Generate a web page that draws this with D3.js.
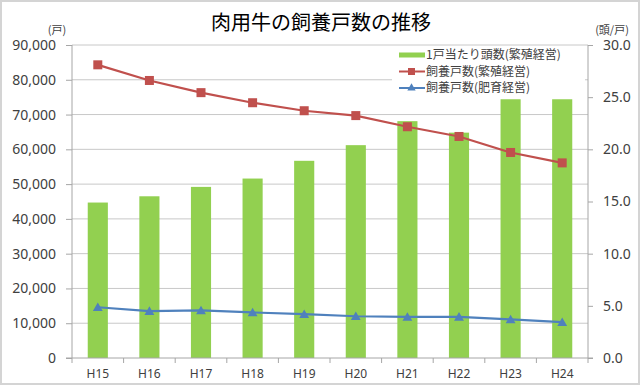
<!DOCTYPE html>
<html>
  <head>
    <meta charset="utf-8">
    <title>肉用牛の飼養戸数の推移</title>
    <script src="https://d3js.org/d3.v7.min.js"></script>
    <style>
      body { margin: 0; background: #fff; }
      text { font-family: "Noto Sans", "Noto Sans CJK JP", sans-serif; fill: #404040; }
      .jp { font-family: "Noto Sans CJK JP", sans-serif; }
    </style>
  </head>
  <body>
    <div id="chart"></div>
    <script>
      // data
      const years = ["H15", "H16", "H17", "H18", "H19", "H20", "H21", "H22", "H23", "H24"];
      const headsPerFarm = [14.9, 15.5, 16.4, 17.2, 18.9, 20.4, 22.7, 21.6, 24.8, 24.8];        // 頭/戸, right axis
      const breedingFarms = [84300, 79800, 76300, 73400, 71100, 69700, 66500, 63700, 59100, 56100];  // 戸, left axis
      const fatteningFarms = [14600, 13500, 13700, 13100, 12600, 12000, 11800, 11850, 11100, 10300];
      const leftTicks = [0, 10000, 20000, 30000, 40000, 50000, 60000, 70000, 80000, 90000];
      const rightTicks = [0, 5, 10, 15, 20, 25, 30];

      const W = 640, H = 387;
      const plot = {left: 72, right: 588, top: 45, bottom: 358};

      const svg = d3.select("#chart")
        .append("svg")
        .attr("width", W)
        .attr("height", H);

      // outer frame
      svg.append("rect")
        .attr("x", 1).attr("y", 1)
        .attr("width", W - 2).attr("height", H - 4)
        .attr("fill", "#fff")
        .attr("stroke", "#d4d4d4")
        .attr("stroke-width", 2);

      const x = d3.scaleBand()
        .domain(years)
        .range([plot.left, plot.right]);
      const yL = d3.scaleLinear()
        .domain([0, 90000])
        .range([plot.bottom, plot.top]);
      const yR = d3.scaleLinear()
        .domain([0, 30])
        .range([plot.bottom, plot.top]);

      // gridlines
      svg.append("g")
        .selectAll("line")
        .data(leftTicks.slice(1))
        .join("line")
        .attr("x1", plot.left).attr("x2", plot.right)
        .attr("y1", d => yL(d)).attr("y2", d => yL(d))
        .attr("stroke", "#c8c8c8");

      // left axis
      const leftAxis = svg.append("g")
        .attr("transform", `translate(${plot.left},0)`)
        .call(d3.axisLeft(yL).tickValues(leftTicks).tickSize(6).tickPadding(10)
          .tickFormat(d3.format(",")));
      leftAxis.select(".domain").attr("stroke", "#a6a6a6").attr("d", `M0,${plot.top}V${plot.bottom}`);
      leftAxis.selectAll(".tick line").attr("stroke", "#a6a6a6");
      leftAxis.selectAll("text").style("font-size", "14px").attr("fill", "#404040");

      // right axis
      const rightAxis = svg.append("g")
        .attr("transform", `translate(${plot.right},0)`)
        .call(d3.axisRight(yR).tickValues(rightTicks).tickSize(5).tickPadding(10)
          .tickFormat(d3.format(".1f")));
      rightAxis.select(".domain").attr("stroke", "#a6a6a6").attr("d", `M0,${plot.top}V${plot.bottom}`);
      rightAxis.selectAll(".tick line").attr("stroke", "#a6a6a6");
      rightAxis.selectAll("text").style("font-size", "14px").attr("fill", "#404040");

      // bars (right axis)
      const barW = x.bandwidth() * 0.39;
      svg.append("g")
        .selectAll("rect")
        .data(headsPerFarm)
        .join("rect")
        .attr("x", (d, i) => x(years[i]) + (x.bandwidth() - barW) / 2)
        .attr("width", barW)
        .attr("y", d => yR(d))
        .attr("height", d => plot.bottom - yR(d))
        .attr("fill", "#92d050");

      // x axis
      const xAxis = svg.append("g")
        .attr("transform", `translate(0,${plot.bottom})`)
        .call(d3.axisBottom(x).tickSize(0).tickPadding(11));
      xAxis.select(".domain").attr("stroke", "#a6a6a6").attr("d", `M${plot.left - 6},0H${plot.right + 5}`);
      xAxis.selectAll("text").style("font-size", "12px").attr("fill", "#404040");
      // tick marks between categories
      xAxis.append("g")
        .selectAll("line")
        .data(d3.range(years.length + 1))
        .join("line")
        .attr("x1", i => plot.left + i * x.step())
        .attr("x2", i => plot.left + i * x.step())
        .attr("y1", 0).attr("y2", 5)
        .attr("stroke", "#a6a6a6");

      const cx = (d, i) => x(years[i]) + x.bandwidth() / 2;

      // red line: breeding farms
      const redLine = d3.line().x(cx).y(d => yL(d));
      svg.append("path")
        .datum(breedingFarms)
        .attr("d", redLine)
        .attr("fill", "none")
        .attr("stroke", "#c0504d")
        .attr("stroke-width", 2.2);
      svg.append("g")
        .selectAll("rect")
        .data(breedingFarms)
        .join("rect")
        .attr("x", (d, i) => cx(d, i) - 4.5)
        .attr("y", d => yL(d) - 4.5)
        .attr("width", 9).attr("height", 9)
        .attr("fill", "#c0504d");

      // blue line: fattening farms
      svg.append("path")
        .datum(fatteningFarms)
        .attr("d", redLine)
        .attr("fill", "none")
        .attr("stroke", "#4f81bd")
        .attr("stroke-width", 2.2);
      const tri = d3.symbol().type(d3.symbolTriangle).size(42);
      svg.append("g")
        .selectAll("path")
        .data(fatteningFarms)
        .join("path")
        .attr("d", tri)
        .attr("transform", (d, i) => `translate(${cx(d, i)},${yL(d) + 1})`)
        .attr("fill", "#4f81bd");

      // legend
      const lg = svg.append("g");
      lg.append("rect")
        .attr("x", 392).attr("y", 46).attr("width", 193).attr("height", 52)
        .attr("fill", "#fff");
      const items = [
        {label: "1戸当たり頭数(繁殖経営)", kind: "bar", color: "#92d050"},
        {label: "飼養戸数(繁殖経営)", kind: "square", color: "#c0504d"},
        {label: "飼養戸数(肥育経営)", kind: "tri", color: "#4f81bd"}
      ];
      items.forEach((it, i) => {
        const yy = 55 + i * 16.5;
        if (it.kind === "bar") {
          lg.append("rect").attr("x", 399).attr("y", yy - 2.5).attr("width", 26).attr("height", 5).attr("fill", it.color);
        } else {
          lg.append("line").attr("x1", 399).attr("x2", 425).attr("y1", yy).attr("y2", yy)
            .attr("stroke", it.color).attr("stroke-width", 2);
          if (it.kind === "square") {
            lg.append("rect").attr("x", 408).attr("y", yy - 3.5).attr("width", 7).attr("height", 7).attr("fill", it.color);
          } else {
            lg.append("path").attr("d", d3.symbol().type(d3.symbolTriangle).size(30))
              .attr("transform", `translate(411.5,${yy})`).attr("fill", it.color);
          }
        }
        lg.append("text")
          .attr("class", "jp")
          .attr("x", 426).attr("y", yy)
          .attr("dy", "0.35em")
          .style("font-size", "12px")
          .text(it.label);
      });

      // title and unit labels
      svg.append("text")
        .attr("class", "jp")
        .attr("x", 321).attr("y", 30)
        .attr("text-anchor", "middle")
        .style("font-size", "20px")
        .attr("fill", "#000")
        .style("fill", "#000")
        .text("肉用牛の飼養戸数の推移");
      svg.append("text")
        .attr("class", "jp")
        .attr("x", 57).attr("y", 34)
        .attr("text-anchor", "middle")
        .style("font-size", "11px")
        .text("(戸)");
      svg.append("text")
        .attr("class", "jp")
        .attr("x", 612).attr("y", 34)
        .attr("text-anchor", "middle")
        .style("font-size", "11px")
        .text("(頭/戸)");
    </script>
  </body>
</html>
